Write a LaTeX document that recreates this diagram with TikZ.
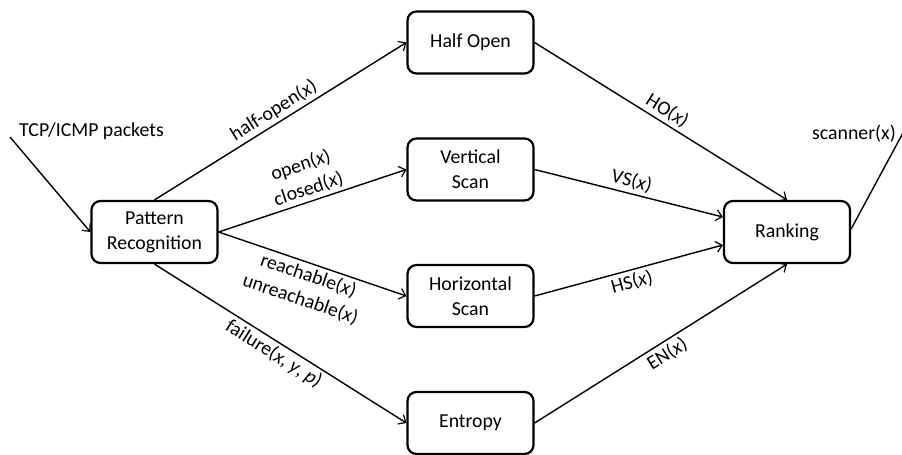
\documentclass[tikz,border=0pt]{standalone}
\usepackage{fontspec}
\setmainfont{Carlito}
\usetikzlibrary{arrows.meta}
\begin{document}
\begin{tikzpicture}[x=1pt,y=-1pt,
  font=\fontsize{19.8}{25}\selectfont,
  block/.style={draw=black, line width=2.2pt, rounded corners=9pt,
    minimum width=126pt, minimum height=62pt, align=center, inner sep=2pt},
  flow/.style={line width=1.4pt, -{Straight Barb[length=6pt,width=11pt,line width=1.2pt]}},
  lbl/.style={sloped, align=center, inner sep=3pt},
  plain/.style={inner sep=0pt, anchor=center}]
  \useasboundingbox (0,0) rectangle (902,455);

  % processing blocks
  \node[block] (pr) at (154.5,232) {Pattern\\Recognition};
  \node[block] (ho) at (470.5,42.5) {Half Open};
  \node[block] (vs) at (470.5,169.5) {Vertical\\Scan};
  \node[block] (hs) at (470.5,296) {Horizontal\\Scan};
  \node[block] (en) at (470.5,423) {Entropy};
  \node[block] (rk) at (787,232) {Ranking};

  % input and output ends
  \coordinate (in) at (10,137);
  \coordinate (out) at (904,131);
  \node[plain, anchor=west] (inlbl) at (19,131) {TCP/ICMP packets};
  \node[plain] (outlbl) at (854,134) {scanner(x)};

  \draw[flow] (in) -- (pr.west);
  \draw[line width=1.4pt] (rk.east) ++(0,-3) -- (out);

  % pattern recognition to detectors
  \draw[flow] (pr.north) -- node[lbl, above] {half-open(\textit{x})} (ho.west);
  \draw[flow] (pr.east) -- node[lbl, above] {open(\textit{x})\\closed(\textit{x})} (vs.west);
  \draw[flow] (pr.east) -- node[lbl, below] {reachable(\textit{x})\\unreachable(\textit{x})} (hs.west);
  \draw[flow] (pr.south) -- node[lbl, below] {failure(\textit{x}, \textit{y}, \textit{p})} (en.west);

  % detectors to ranking
  \draw[flow] (ho.east) -- node[lbl, above] {HO(\textit{x})} (rk.north);
  \draw[flow] (vs.east) -- node[lbl, above] {VS(\textit{x})} ([yshift=15pt]rk.west);
  \draw[flow] (hs.east) -- node[lbl, below] {HS(\textit{x})} ([yshift=-13pt]rk.west);
  \draw[flow] (en.east) -- node[lbl, below] {EN(\textit{x})} (rk.south);
\end{tikzpicture}
\end{document}
